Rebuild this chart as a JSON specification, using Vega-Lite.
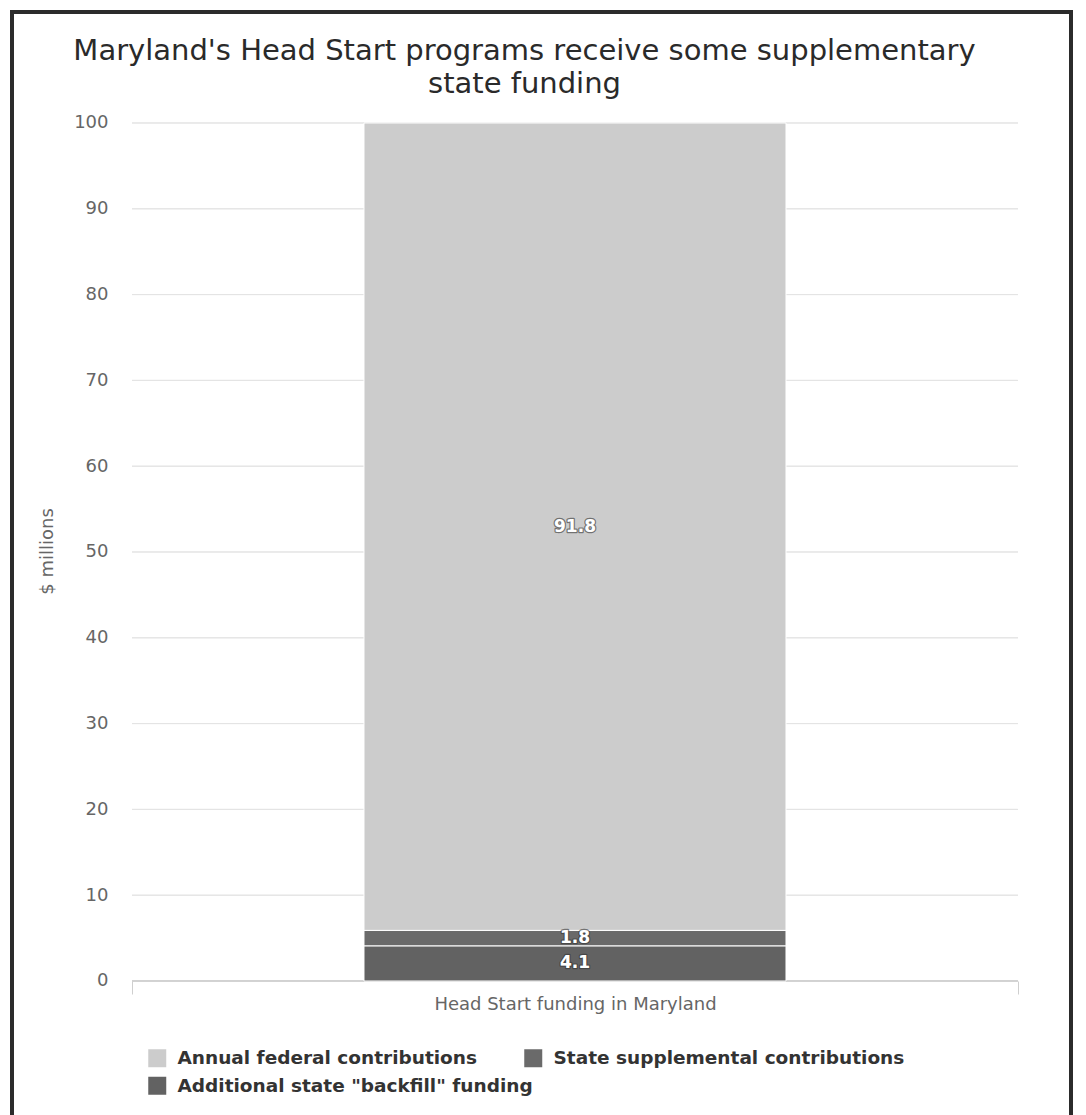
{
  "$schema": "https://vega.github.io/schema/vega-lite/v6.json",
  "width": 1059,
  "height": 1105,
  "autosize": {"type": "none"},
  "padding": {"left": 12, "top": 12, "right": 15, "bottom": 0},
  "background": "white",
  "title": {
    "text": ["Maryland's Head Start programs receive some supplementary", "state funding"],
    "anchor": "middle",
    "frame": "group",
    "offset": -87,
    "dx": -17,
    "font": "DejaVu Sans",
    "fontSize": 29,
    "fontWeight": "normal",
    "color": "#2a2a2a",
    "lineHeight": 33
  },
  "config": {
    "view": {"stroke": "#2b2b2b", "strokeWidth": 4},
    "font": "DejaVu Sans",
    "axisX": {
      "title": null,
      "offset": -136,
      "domain": false,
      "grid": false,
      "ticks": true,
      "tickBand": "extent",
      "tickSize": 13,
      "tickColor": "#cfcfcf",
      "tickWidth": 1,
      "labelFont": "DejaVu Sans",
      "labelFontSize": 18,
      "labelColor": "#666666",
      "labelPadding": 1,
      "labelAngle": 0,
      "labelLimit": 0
    },
    "axisY": {
      "offset": -120,
      "domain": false,
      "grid": false,
      "ticks": false,
      "tickSize": 0,
      "labelPadding": 24,
      "labelFont": "DejaVu Sans",
      "labelFontSize": 18,
      "labelColor": "#666666",
      "titleFont": "DejaVu Sans",
      "titleFontSize": 18,
      "titleFontWeight": "normal",
      "titleColor": "#666666",
      "titleX": -80,
      "titleY": 539,
      "titleAngle": -90,
      "titleAlign": "center",
      "titleBaseline": "alphabetic"
    }
  },
  "datasets": {
    "funding": [
      {"segment": "Additional state \"backfill\" funding", "amount": 4.1, "label": "4.1"},
      {"segment": "State supplemental contributions", "amount": 1.8, "label": "1.8"},
      {"segment": "Annual federal contributions", "amount": 94.1, "label": "91.8"}
    ],
    "grid": [
      {"v": 0}, {"v": 10}, {"v": 20}, {"v": 30}, {"v": 40}, {"v": 50},
      {"v": 60}, {"v": 70}, {"v": 80}, {"v": 90}, {"v": 100}
    ]
  },
  "layer": [
    {
      "data": {"name": "grid"},
      "mark": {"type": "rect", "fill": "transparent", "strokeWidth": 1},
      "encoding": {
        "x": {
          "datum": "Head Start funding in Maryland",
          "type": "nominal",
          "scale": {"paddingInner": 0, "paddingOuter": 0.09763, "align": 0.6936},
          "axis": {"title": null}
        },
        "y": {
          "field": "v",
          "type": "quantitative",
          "scale": {"domain": [-15.851, 112.937], "nice": false, "zero": false},
          "axis": {"title": "$ millions", "values": [0, 10, 20, 30, 40, 50, 60, 70, 80, 90, 100]}
        },
        "y2": {"field": "v"},
        "stroke": {
          "condition": {"test": "datum.v === 0", "value": "#c4c4c4"},
          "value": "#e4e4e4"
        }
      }
    },
    {
      "data": {"name": "funding"},
      "transform": [{"stack": "amount", "groupby": [], "as": ["low", "high"]}],
      "mark": {"type": "bar", "width": {"band": 0.4763}, "stroke": "white", "strokeWidth": 1},
      "encoding": {
        "x": {
          "datum": "Head Start funding in Maryland",
          "type": "nominal",
          "scale": {"paddingInner": 0, "paddingOuter": 0.09763, "align": 0.6936},
          "axis": {"title": null}
        },
        "y": {
          "field": "low",
          "type": "quantitative",
          "scale": {"domain": [-15.851, 112.937], "nice": false, "zero": false},
          "axis": {"title": "$ millions", "values": [0, 10, 20, 30, 40, 50, 60, 70, 80, 90, 100]}
        },
        "y2": {"field": "high"},
        "color": {
          "field": "segment",
          "type": "nominal",
          "scale": {
            "domain": ["Annual federal contributions", "State supplemental contributions", "Additional state \"backfill\" funding"],
            "range": ["#cccccc", "#6a6a6a", "#626262"]
          },
          "legend": {
            "orient": "none",
            "legendX": 136,
            "legendY": 1037,
            "title": null,
            "direction": "horizontal",
            "columns": 2,
            "gridAlign": "none",
            "columnPadding": -9,
            "rowPadding": 8.5,
            "symbolType": "square",
            "symbolSize": 324,
            "symbolStrokeWidth": 0,
            "labelFont": "DejaVu Sans",
            "labelFontSize": 18.5,
            "labelFontWeight": "bold",
            "labelColor": "#333333",
            "labelOffset": 11,
            "labelLimit": 0,
            "padding": 0,
            "values": ["Annual federal contributions", "State supplemental contributions", "Additional state \"backfill\" funding"]
          }
        }
      }
    },
    {
      "data": {"name": "funding"},
      "transform": [
        {"stack": "amount", "groupby": [], "as": ["low", "high"]},
        {"calculate": "(datum.low + datum.high) / 2", "as": "mid"}
      ],
      "mark": {"type": "text", "font": "DejaVu Sans", "fontSize": 17, "fontWeight": "bold", "fill": "white", "stroke": "#333333", "strokeWidth": 2.5, "strokeOpacity": 0.6, "strokeJoin": "round"},
      "encoding": {
        "x": {
          "datum": "Head Start funding in Maryland",
          "type": "nominal",
          "scale": {"paddingInner": 0, "paddingOuter": 0.09763, "align": 0.6936},
          "axis": {"title": null}
        },
        "y": {
          "field": "mid",
          "type": "quantitative",
          "scale": {"domain": [-15.851, 112.937], "nice": false, "zero": false},
          "axis": {"title": "$ millions", "values": [0, 10, 20, 30, 40, 50, 60, 70, 80, 90, 100]}
        },
        "text": {"field": "label"}
      }
    },
    {
      "data": {"name": "funding"},
      "transform": [
        {"stack": "amount", "groupby": [], "as": ["low", "high"]},
        {"calculate": "(datum.low + datum.high) / 2", "as": "mid"}
      ],
      "mark": {"type": "text", "font": "DejaVu Sans", "fontSize": 17, "fontWeight": "bold", "fill": "white"},
      "encoding": {
        "x": {
          "datum": "Head Start funding in Maryland",
          "type": "nominal",
          "scale": {"paddingInner": 0, "paddingOuter": 0.09763, "align": 0.6936},
          "axis": {"title": null}
        },
        "y": {
          "field": "mid",
          "type": "quantitative",
          "scale": {"domain": [-15.851, 112.937], "nice": false, "zero": false},
          "axis": {"title": "$ millions", "values": [0, 10, 20, 30, 40, 50, 60, 70, 80, 90, 100]}
        },
        "text": {"field": "label"}
      }
    }
  ]
}
